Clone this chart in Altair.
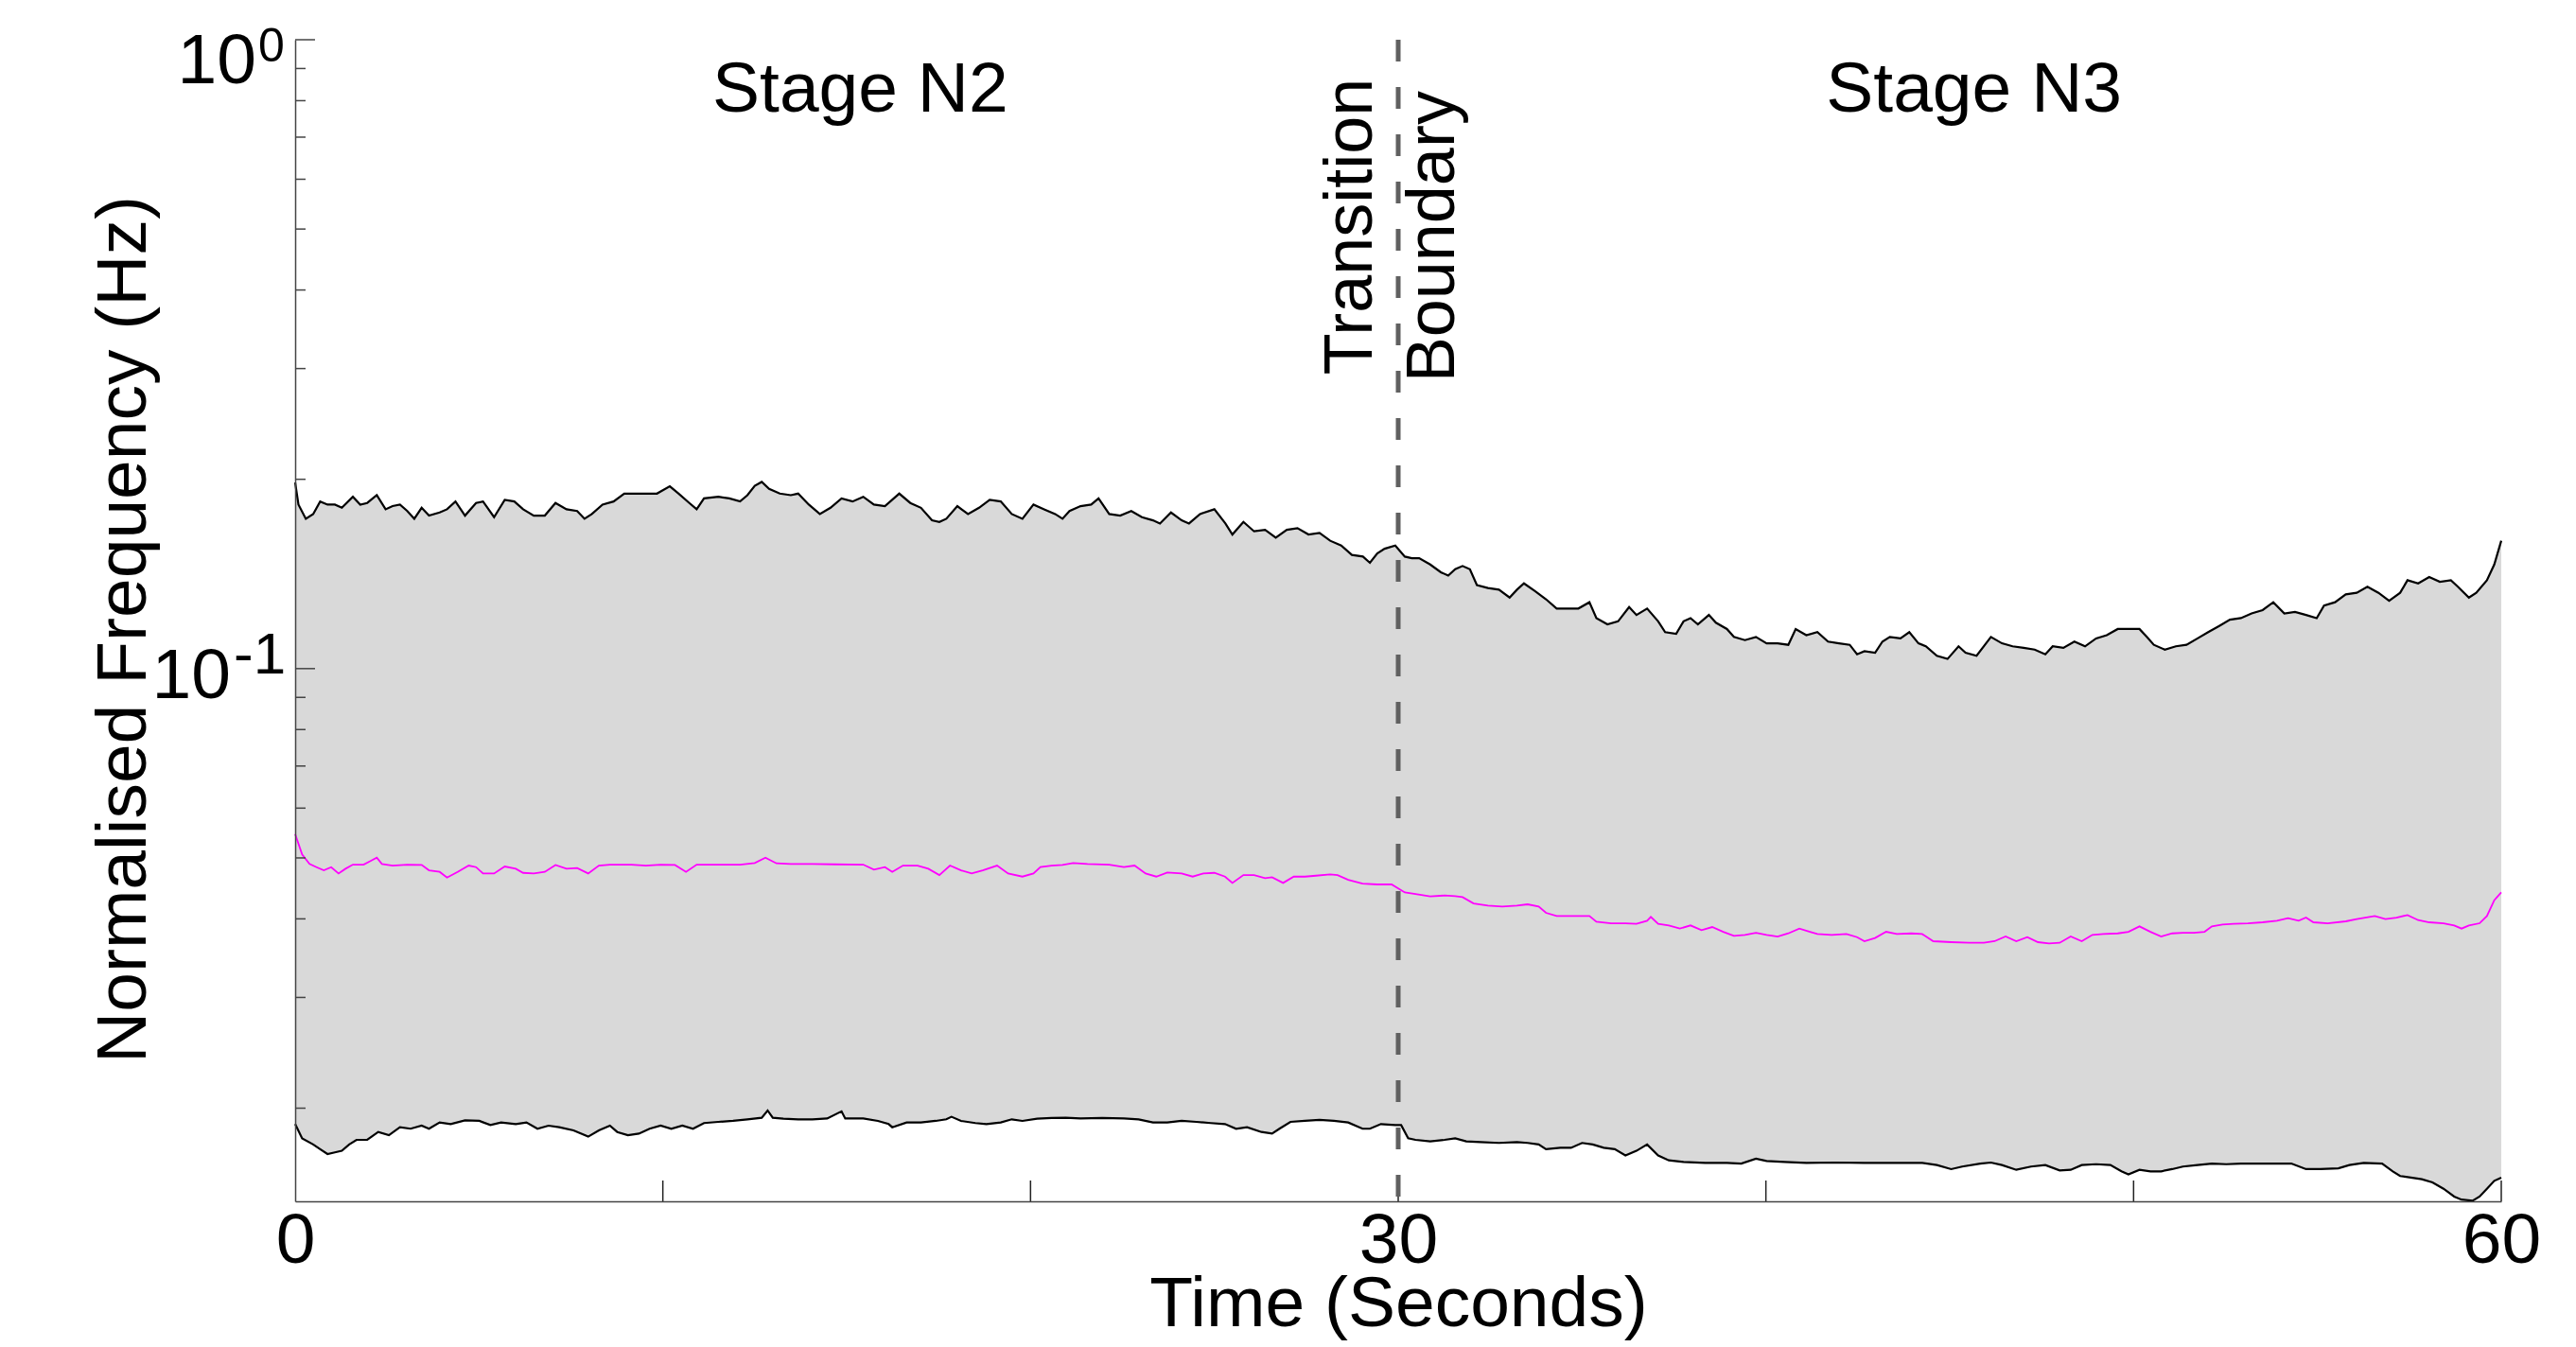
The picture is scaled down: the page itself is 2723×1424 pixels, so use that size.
import altair as alt
import pandas as pd

# ---------------- data (time in s, normalised frequency in Hz) ----------------
UPPER = [
    (0.00, .1976), (0.09, .1823), (0.29, .1731), (0.49, .1761), (0.68, .1844), (0.88, .1823),
    (1.08, .1823), (1.27, .1802), (1.57, .1876), (1.77, .1823), (1.96, .1834), (2.22, .1887),
    (2.46, .1792), (2.65, .1813), (2.85, .1823), (3.05, .1781), (3.24, .1731), (3.44, .1802),
    (3.64, .1751), (3.93, .1771), (4.13, .1792), (4.36, .1844), (4.62, .1751), (4.92, .1834),
    (5.11, .1844), (5.41, .1741), (5.70, .1855), (5.96, .1844), (6.20, .1792), (6.49, .1751),
    (6.79, .1751), (7.08, .1834), (7.38, .1792), (7.67, .1781), (7.87, .1731), (8.07, .1761),
    (8.36, .1823), (8.66, .1844), (8.95, .1898), (9.25, .1898), (9.54, .1898), (9.84, .1898),
    (10.19, .1949), (10.43, .1898), (10.72, .1834), (10.92, .1792), (11.12, .1865), (11.51, .1876),
    (11.81, .1865), (12.10, .1844), (12.30, .1887), (12.50, .1953), (12.69, .1981), (12.89, .1931),
    (13.18, .1898), (13.48, .1887), (13.68, .1898), (13.97, .1823), (14.27, .1761), (14.56, .1802),
    (14.86, .1865), (15.16, .1844), (15.45, .1876), (15.74, .1823), (16.04, .1813), (16.43, .1898),
    (16.73, .1834), (17.02, .1802), (17.32, .1721), (17.52, .1711), (17.71, .1731), (18.01, .1813),
    (18.30, .1761), (18.60, .1802), (18.89, .1855), (19.19, .1844), (19.49, .1761), (19.78, .1731),
    (20.08, .1823), (20.37, .1792), (20.67, .1761), (20.87, .1731), (21.06, .1781), (21.36, .1813),
    (21.65, .1823), (21.85, .1865), (22.14, .1761), (22.44, .1751), (22.74, .1781), (23.03, .1741),
    (23.33, .1721), (23.52, .1701), (23.82, .1771), (24.11, .1721), (24.31, .1701), (24.61, .1761),
    (25.00, .1792), (25.30, .1701), (25.49, .1634), (25.79, .1711), (26.08, .1653), (26.38, .1662),
    (26.67, .1615), (26.97, .1662), (27.26, .1672), (27.56, .1634), (27.86, .1643), (28.15, .1597),
    (28.45, .1569), (28.74, .1516), (29.04, .1507), (29.23, .1473), (29.43, .1525), (29.63, .1551),
    (29.92, .1569), (30.18, .1507), (30.37, .1498), (30.57, .1498), (30.87, .1464), (31.16, .1423),
    (31.36, .1406), (31.55, .1439), (31.75, .1456), (31.95, .1439), (32.14, .1358), (32.44, .1343),
    (32.74, .1335), (33.03, .1297), (33.23, .1335), (33.42, .1366), (33.72, .1328), (34.02, .1289),
    (34.31, .1246), (34.61, .1246), (34.90, .1246), (35.20, .1275), (35.39, .1203), (35.69, .1176),
    (35.98, .1189), (36.28, .1253), (36.48, .1217), (36.77, .1246), (37.07, .1189), (37.26, .1143),
    (37.56, .1136), (37.76, .1189), (37.95, .1203), (38.15, .1176), (38.45, .1217), (38.64, .1183),
    (38.94, .1156), (39.13, .1123), (39.43, .1110), (39.73, .1123), (40.02, .1097), (40.32, .1097),
    (40.61, .1091), (40.81, .1156), (41.10, .1130), (41.40, .1143), (41.69, .1104), (41.99, .1097),
    (42.28, .1091), (42.48, .1054), (42.68, .1066), (42.97, .1060), (43.17, .1104), (43.37, .1123),
    (43.66, .1117), (43.90, .1143), (44.15, .1097), (44.35, .1085), (44.65, .1048), (44.94, .1036),
    (45.24, .1085), (45.43, .1060), (45.73, .1048), (46.12, .1123), (46.42, .1097), (46.71, .1085),
    (47.01, .1079), (47.31, .1072), (47.60, .1054), (47.80, .1085), (48.09, .1079), (48.39, .1104),
    (48.68, .1085), (48.98, .1117), (49.27, .1130), (49.57, .1156), (49.86, .1156), (50.16, .1156),
    (50.36, .1123), (50.55, .1091), (50.85, .1072), (51.15, .1085), (51.44, .1091), (51.74, .1117),
    (52.03, .1143), (52.33, .1169), (52.62, .1196), (52.92, .1203), (53.21, .1224), (53.51, .1239),
    (53.80, .1275), (54.10, .1224), (54.39, .1231), (54.69, .1217), (54.98, .1203), (55.18, .1260),
    (55.48, .1275), (55.77, .1312), (56.07, .1320), (56.36, .1350), (56.66, .1320), (56.95, .1282),
    (57.25, .1320), (57.45, .1382), (57.74, .1366), (58.04, .1398), (58.33, .1374), (58.63, .1382),
    (58.82, .1350), (59.12, .1297), (59.32, .1320), (59.61, .1382), (59.81, .1464), (60.00, .1597),
]

MEDIAN = [
    (0.00, .05456), (0.19, .05062), (0.39, .04890), (0.58, .04834), (0.78, .04778), (0.98, .04834),
    (1.18, .04723), (1.37, .04806), (1.57, .04879), (1.86, .04879), (2.06, .04947), (2.22, .05004),
    (2.36, .04890), (2.65, .04862), (3.05, .04879), (3.44, .04873), (3.64, .04778), (3.93, .04751),
    (4.13, .04653), (4.42, .04751), (4.72, .04862), (4.92, .04834), (5.11, .04723), (5.41, .04723),
    (5.70, .04845), (6.00, .04806), (6.20, .04734), (6.49, .04723), (6.79, .04751), (7.08, .04873),
    (7.38, .04806), (7.67, .04817), (7.97, .04723), (8.26, .04862), (8.56, .04879), (9.15, .04879),
    (9.54, .04862), (9.94, .04879), (10.33, .04873), (10.63, .04751), (10.92, .04879), (11.51, .04879),
    (12.10, .04879), (12.50, .04907), (12.79, .05004), (13.09, .04901), (13.48, .04890), (14.07, .04890),
    (14.66, .04884), (15.45, .04879), (15.74, .04789), (16.04, .04834), (16.24, .04751), (16.53, .04862),
    (16.93, .04862), (17.22, .04806), (17.52, .04696), (17.81, .04862), (18.11, .04778), (18.40, .04723),
    (18.70, .04778), (19.09, .04862), (19.39, .04723), (19.78, .04669), (20.08, .04723), (20.27, .04834),
    (20.57, .04862), (20.87, .04873), (21.16, .04907), (21.55, .04890), (22.14, .04879), (22.54, .04834),
    (22.83, .04862), (23.13, .04723), (23.42, .04669), (23.72, .04739), (24.11, .04723), (24.41, .04669),
    (24.70, .04723), (25.00, .04734), (25.29, .04669), (25.49, .04563), (25.79, .04696), (26.08, .04696),
    (26.38, .04643), (26.57, .04658), (26.87, .04563), (27.16, .04669), (27.46, .04669), (27.76, .04685),
    (28.15, .04707), (28.35, .04696), (28.64, .04616), (29.03, .04552), (29.43, .04537), (29.82, .04537),
    (30.18, .04407), (30.47, .04382), (30.87, .04342), (31.26, .04357), (31.55, .04347), (31.75, .04332),
    (32.05, .04233), (32.44, .04199), (32.83, .04185), (33.23, .04199), (33.52, .04219), (33.82, .04185),
    (34.02, .04089), (34.31, .04042), (34.61, .04042), (35.20, .04042), (35.39, .03959), (35.79, .03936),
    (36.18, .03936), (36.48, .03927), (36.77, .03973), (36.87, .04028), (37.07, .03927), (37.36, .03905),
    (37.66, .03860), (37.95, .03905), (38.25, .03837), (38.54, .03882), (38.84, .03815), (39.13, .03759),
    (39.43, .03772), (39.73, .03802), (40.02, .03772), (40.32, .03750), (40.61, .03793), (40.91, .03860),
    (41.20, .03815), (41.40, .03784), (41.79, .03772), (42.19, .03784), (42.48, .03741), (42.68, .03686),
    (42.97, .03729), (43.27, .03815), (43.56, .03784), (43.96, .03793), (44.25, .03784), (44.55, .03686),
    (45.04, .03673), (45.53, .03664), (45.93, .03664), (46.22, .03686), (46.52, .03750), (46.81, .03686),
    (47.11, .03741), (47.40, .03673), (47.70, .03656), (47.99, .03664), (48.29, .03750), (48.59, .03686),
    (48.88, .03772), (49.18, .03784), (49.57, .03793), (49.86, .03815), (50.16, .03891), (50.46, .03815),
    (50.75, .03750), (51.05, .03793), (51.34, .03802), (51.64, .03802), (51.93, .03815), (52.13, .03891),
    (52.42, .03918), (52.72, .03927), (53.11, .03936), (53.51, .03950), (53.90, .03973), (54.20, .04010),
    (54.49, .03973), (54.69, .04019), (54.89, .03950), (55.28, .03936), (55.77, .03964), (56.07, .03996),
    (56.56, .04042), (56.85, .03996), (57.15, .04019), (57.45, .04056), (57.74, .03982), (58.04, .03950),
    (58.43, .03936), (58.72, .03905), (58.92, .03860), (59.12, .03905), (59.41, .03936), (59.61, .04042),
    (59.81, .04282), (60.00, .04407),
]

LOWER = [
    (0.00, .01887), (0.19, .01791), (0.49, .01751), (0.68, .01721), (0.88, .01691), (1.08, .01701),
    (1.27, .01711), (1.47, .01751), (1.67, .01781), (1.96, .01781), (2.26, .01833), (2.55, .01812),
    (2.85, .01865), (3.14, .01855), (3.44, .01876), (3.64, .01855), (3.93, .01898), (4.23, .01887),
    (4.62, .01913), (5.01, .01909), (5.31, .01880), (5.60, .01898), (6.00, .01887), (6.29, .01898),
    (6.59, .01855), (6.89, .01876), (7.18, .01865), (7.57, .01844), (7.97, .01802), (8.26, .01844),
    (8.56, .01876), (8.76, .01833), (9.05, .01812), (9.35, .01822), (9.64, .01855), (9.94, .01876),
    (10.23, .01855), (10.53, .01876), (10.82, .01855), (11.12, .01894), (11.51, .01902), (11.91, .01909),
    (12.30, .01920), (12.69, .01931), (12.85, .01983), (12.99, .01931), (13.28, .01924), (13.68, .01920),
    (14.07, .01920), (14.47, .01926), (14.86, .01977), (14.96, .01926), (15.45, .01926), (15.85, .01909),
    (16.14, .01887), (16.24, .01865), (16.63, .01898), (17.02, .01898), (17.42, .01909), (17.71, .01920),
    (17.85, .01938), (18.11, .01909), (18.50, .01894), (18.80, .01887), (19.19, .01898), (19.49, .01920),
    (19.78, .01909), (20.18, .01924), (20.57, .01929), (20.96, .01931), (21.36, .01926), (21.95, .01929),
    (22.54, .01926), (22.94, .01920), (23.33, .01898), (23.72, .01898), (24.11, .01909), (24.51, .01902),
    (24.90, .01894), (25.29, .01887), (25.59, .01855), (25.89, .01865), (26.28, .01833), (26.57, .01822),
    (26.77, .01855), (27.07, .01902), (27.46, .01909), (27.86, .01916), (28.25, .01909), (28.64, .01898),
    (29.03, .01855), (29.23, .01855), (29.53, .01887), (29.92, .01880), (30.08, .01880), (30.27, .01791),
    (30.47, .01781), (30.87, .01771), (31.26, .01781), (31.55, .01791), (31.85, .01771), (32.24, .01767),
    (32.74, .01761), (33.23, .01767), (33.52, .01761), (33.82, .01751), (34.02, .01721), (34.41, .01730),
    (34.70, .01730), (35.00, .01761), (35.29, .01751), (35.59, .01730), (35.89, .01721), (36.18, .01682),
    (36.48, .01711), (36.77, .01751), (37.07, .01682), (37.36, .01652), (37.76, .01643), (38.35, .01637),
    (38.94, .01637), (39.33, .01633), (39.73, .01662), (40.02, .01648), (40.51, .01643), (41.10, .01637),
    (41.89, .01639), (42.68, .01637), (43.47, .01637), (44.25, .01637), (44.65, .01624), (45.04, .01600),
    (45.34, .01615), (45.83, .01633), (46.12, .01639), (46.42, .01624), (46.81, .01596), (47.21, .01615),
    (47.60, .01624), (47.99, .01592), (48.29, .01596), (48.59, .01624), (48.98, .01629), (49.37, .01624),
    (49.67, .01587), (49.86, .01569), (50.16, .01596), (50.46, .01587), (50.75, .01587), (51.05, .01600),
    (51.34, .01615), (51.74, .01624), (52.13, .01633), (52.52, .01629), (52.92, .01633), (53.70, .01633),
    (54.29, .01633), (54.69, .01600), (55.08, .01600), (55.57, .01605), (55.87, .01624), (56.26, .01637),
    (56.76, .01633), (57.05, .01587), (57.25, .01560), (57.54, .01551), (57.84, .01542), (58.13, .01524),
    (58.43, .01489), (58.72, .01447), (58.92, .01431), (59.22, .01425), (59.41, .01447), (59.61, .01489),
    (59.81, .01533), (60.00, .01551),
]

X_LABELS = [0, 30, 60]
X_TICKS = [10, 20, 30, 40, 50, 60]
Y_MAJOR = [1.0, 0.1]
Y_MINOR = [0.9, 0.8, 0.7, 0.6, 0.5, 0.4, 0.3, 0.2,
           0.09, 0.08, 0.07, 0.06, 0.05, 0.04, 0.03, 0.02]
Y_MIN, Y_MAX = 0.01422, 1.0
X_MIN, X_MAX = 0, 60
STAGE_LABELS = ["Stage N2", "Stage N3"]
STAGE_T = [15.37, 45.66]
STAGE_V = [0.7677, 0.7677]
BOUNDARY_T = [30]
BOUNDARY_LABELS = ["Transition", "Boundary"]
BOUNDARY_LABEL_T = [29.29, 31.52]
BOUNDARY_LABEL_V = [0.2933, 0.2851]

# ---------------- styling ----------------
W, H = 2332, 1228
FONT = "Liberation Sans"
AX = "#444444"
FS = 75

df_up = pd.DataFrame(UPPER, columns=["t", "v"])
df_md = pd.DataFrame(MEDIAN, columns=["t", "v"])
df_lo = pd.DataFrame(LOWER, columns=["t", "v"])
df_up["b"] = Y_MIN
df_lo["b"] = Y_MIN

xs = alt.Scale(domain=[X_MIN, X_MAX], nice=False, zero=False)
ys = alt.Scale(type="log", domain=[Y_MIN, Y_MAX], nice=False)

x_axis = alt.Axis(
    values=X_LABELS, format="d", labelFontSize=FS, labelFont=FONT, labelColor="black",
    labelPadding=5, labelFlush=False, labelOverlap=False, ticks=False, tickSize=0, grid=False,
    domainColor=AX, domainWidth=1.5, title="Time (Seconds)", titleFont=FONT,
    titleFontSize=FS, titleFontWeight="normal", titleColor="black", titleY=131,
    titleBaseline="alphabetic", zindex=1,
)
y_axis = alt.Axis(
    labels=False, ticks=False, tickSize=0, grid=False, domainColor=AX, domainWidth=1.5,
    title="Normalised Frequency (Hz)", titleFont=FONT, titleFontSize=FS,
    titleFontWeight="normal", titleColor="black", titleAngle=270, titleX=-159, titleY=623,
    titleAlign="center", titleBaseline="alphabetic", zindex=1,
)


def X(f="t"):
    return alt.X(f, type="quantitative", scale=xs, axis=x_axis)


def Y(f="v"):
    return alt.Y(f, type="quantitative", scale=ys, axis=y_axis)


band = alt.Chart(df_up).mark_area(color="#d9d9d9", opacity=1).encode(
    x=X(), y=Y(), y2=alt.Y2("b"))
blank = alt.Chart(df_lo).mark_area(color="white", opacity=1).encode(
    x=X(), y=Y(), y2=alt.Y2("b"))
up_line = alt.Chart(df_up).mark_line(color="black", strokeWidth=2.2).encode(x=X(), y=Y())
lo_line = alt.Chart(df_lo).mark_line(color="black", strokeWidth=2.2).encode(x=X(), y=Y())
md_line = alt.Chart(df_md).mark_line(color="#ff00ff", strokeWidth=1.8).encode(x=X(), y=Y())

ymaj = alt.Chart(pd.DataFrame({"v": Y_MAJOR})).mark_rule(color=AX, strokeWidth=1.5).encode(
    y=Y(), x=alt.value(0), x2=alt.value(21))
ymin = alt.Chart(pd.DataFrame({"v": Y_MINOR})).mark_rule(color=AX, strokeWidth=1.5).encode(
    y=Y(), x=alt.value(0), x2=alt.value(11))
xtk = alt.Chart(pd.DataFrame({"t": X_TICKS})).mark_rule(color="#222222", strokeWidth=1.5).encode(
    x=X(), y=alt.value(H - 22), y2=alt.value(H))

dash = alt.Chart(pd.DataFrame({"t": BOUNDARY_T})).mark_rule(
    color="#606060", strokeWidth=5, strokeDash=[23, 27]).encode(
    x=X(), y=alt.value(0), y2=alt.value(H))

stages = alt.Chart(pd.DataFrame({"t": STAGE_T, "v": STAGE_V, "label": STAGE_LABELS})).mark_text(
    font=FONT, fontSize=FS, color="black", align="center", baseline="alphabetic").encode(
    x=X(), y=Y(), text="label:N")

bound_txt = alt.Chart(pd.DataFrame({"t": BOUNDARY_LABEL_T, "v": BOUNDARY_LABEL_V,
                                    "label": BOUNDARY_LABELS})).mark_text(
    font=FONT, fontSize=72, color="black", angle=270, align="left", baseline="alphabetic").encode(
    x=X(), y=Y(), text="label:N")

lab_top = pd.DataFrame({"v": [Y_MAJOR[0]]})
lab_mid = pd.DataFrame({"v": [Y_MAJOR[1]]})
ten_a = alt.Chart(lab_top).mark_text(text="10", font=FONT, fontSize=FS, color="black",
                                     align="right", baseline="alphabetic", dy=46).encode(
    y=Y(), x=alt.value(-41))
exp_a = alt.Chart(lab_top).mark_text(text="0", font=FONT, fontSize=50, color="black",
                                     align="left", baseline="alphabetic", dy=23).encode(
    y=Y(), x=alt.value(-39))
ten_b = alt.Chart(lab_mid).mark_text(text="10", font=FONT, fontSize=FS, color="black",
                                     align="right", baseline="alphabetic", dy=31).encode(
    y=Y(), x=alt.value(-68))
exp_b = alt.Chart(lab_mid).mark_text(text="-1", font=FONT, fontSize=62, color="black",
                                     align="left", baseline="alphabetic", dy=5).encode(
    y=Y(), x=alt.value(-65))

chart = alt.layer(
    band, blank, up_line, lo_line, md_line, ymaj, ymin, xtk, dash,
    stages, bound_txt, ten_a, exp_a, ten_b, exp_b,
).properties(
    width=W, height=H,
    autosize=alt.AutoSizeParams(type="none"),
    padding={"left": 304, "top": 34, "right": 60, "bottom": 148},
    background="white",
).configure_view(stroke="transparent")

chart.save("out.html", embed_options={"renderer": "svg", "actions": False})
